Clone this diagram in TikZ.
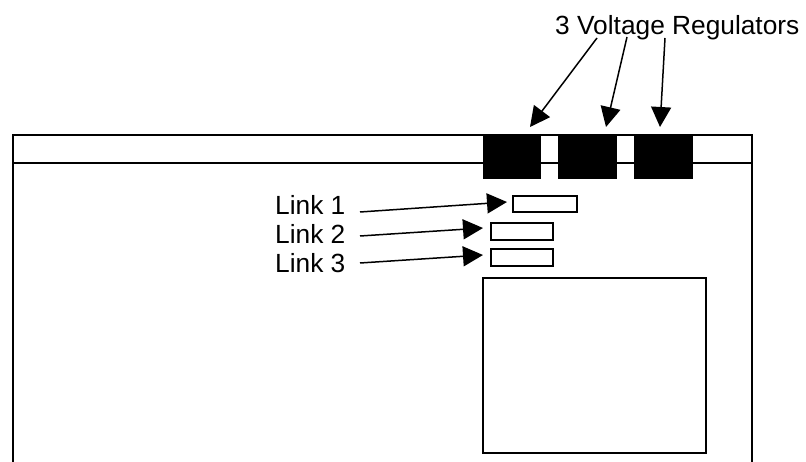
\documentclass[tikz,border=0pt]{standalone}
\usepackage{fontspec}
\setmainfont{Liberation Sans}
\usetikzlibrary{arrows.meta}
\begin{document}
\begin{tikzpicture}[x=1pt,y=-1pt,
  frame/.style={line width=1.6pt},
  reg/.style={draw=black,fill=black,line width=0.8pt},
  box/.style={draw=black,line width=1.3pt},
  lbl/.style={font=\fontsize{26.3}{29}\selectfont,inner sep=0pt},
  arr/.style={line width=1.5pt,-{Triangle[length=20pt,width=20pt]}}]
\useasboundingbox (0,0) rectangle (806,462);
% outer frame
\draw[frame] (13,462) -- (13,135) -- (752,135) -- (752,462);
\draw[frame] (13,163) -- (752,163);
% regulators
\draw[reg] (483,135) rectangle (540,178);
\draw[reg] (558,135) rectangle (616,178);
\draw[reg] (634,135) rectangle (692,178);
\coordinate (r1) at (530,127);
\coordinate (r2) at (606,127);
\coordinate (r3) at (660,127);
% link boxes
\draw[box] (513,196) rectangle (577,212);
\draw[box] (491,223) rectangle (553,240);
\draw[box] (491,249) rectangle (553,266);
\draw[box] (483,278) rectangle (706,453);
\coordinate (l1) at (507,202);
\coordinate (l2) at (483,228);
\coordinate (l3) at (483,255);
% labels
\node[lbl,anchor=base west] (vr) at (555,35) {3 Voltage Regulators};
\node[lbl,anchor=base west] (k1) at (275,215) {Link 1};
\node[lbl,anchor=base west] (k2) at (275,244) {Link 2};
\node[lbl,anchor=base west] (k3) at (275,273) {Link 3};
\coordinate (v1) at (597,38);
\coordinate (v2) at (627,37);
\coordinate (v3) at (665,38);
\coordinate (s1) at (360,212);
\coordinate (s2) at (360,236);
\coordinate (s3) at (360,263);
\draw[arr] (v1) -- (r1);
\draw[arr] (v2) -- (r2);
\draw[arr] (v3) -- (r3);
\draw[arr] (s1) -- (l1);
\draw[arr] (s2) -- (l2);
\draw[arr] (s3) -- (l3);
\end{tikzpicture}
\end{document}
